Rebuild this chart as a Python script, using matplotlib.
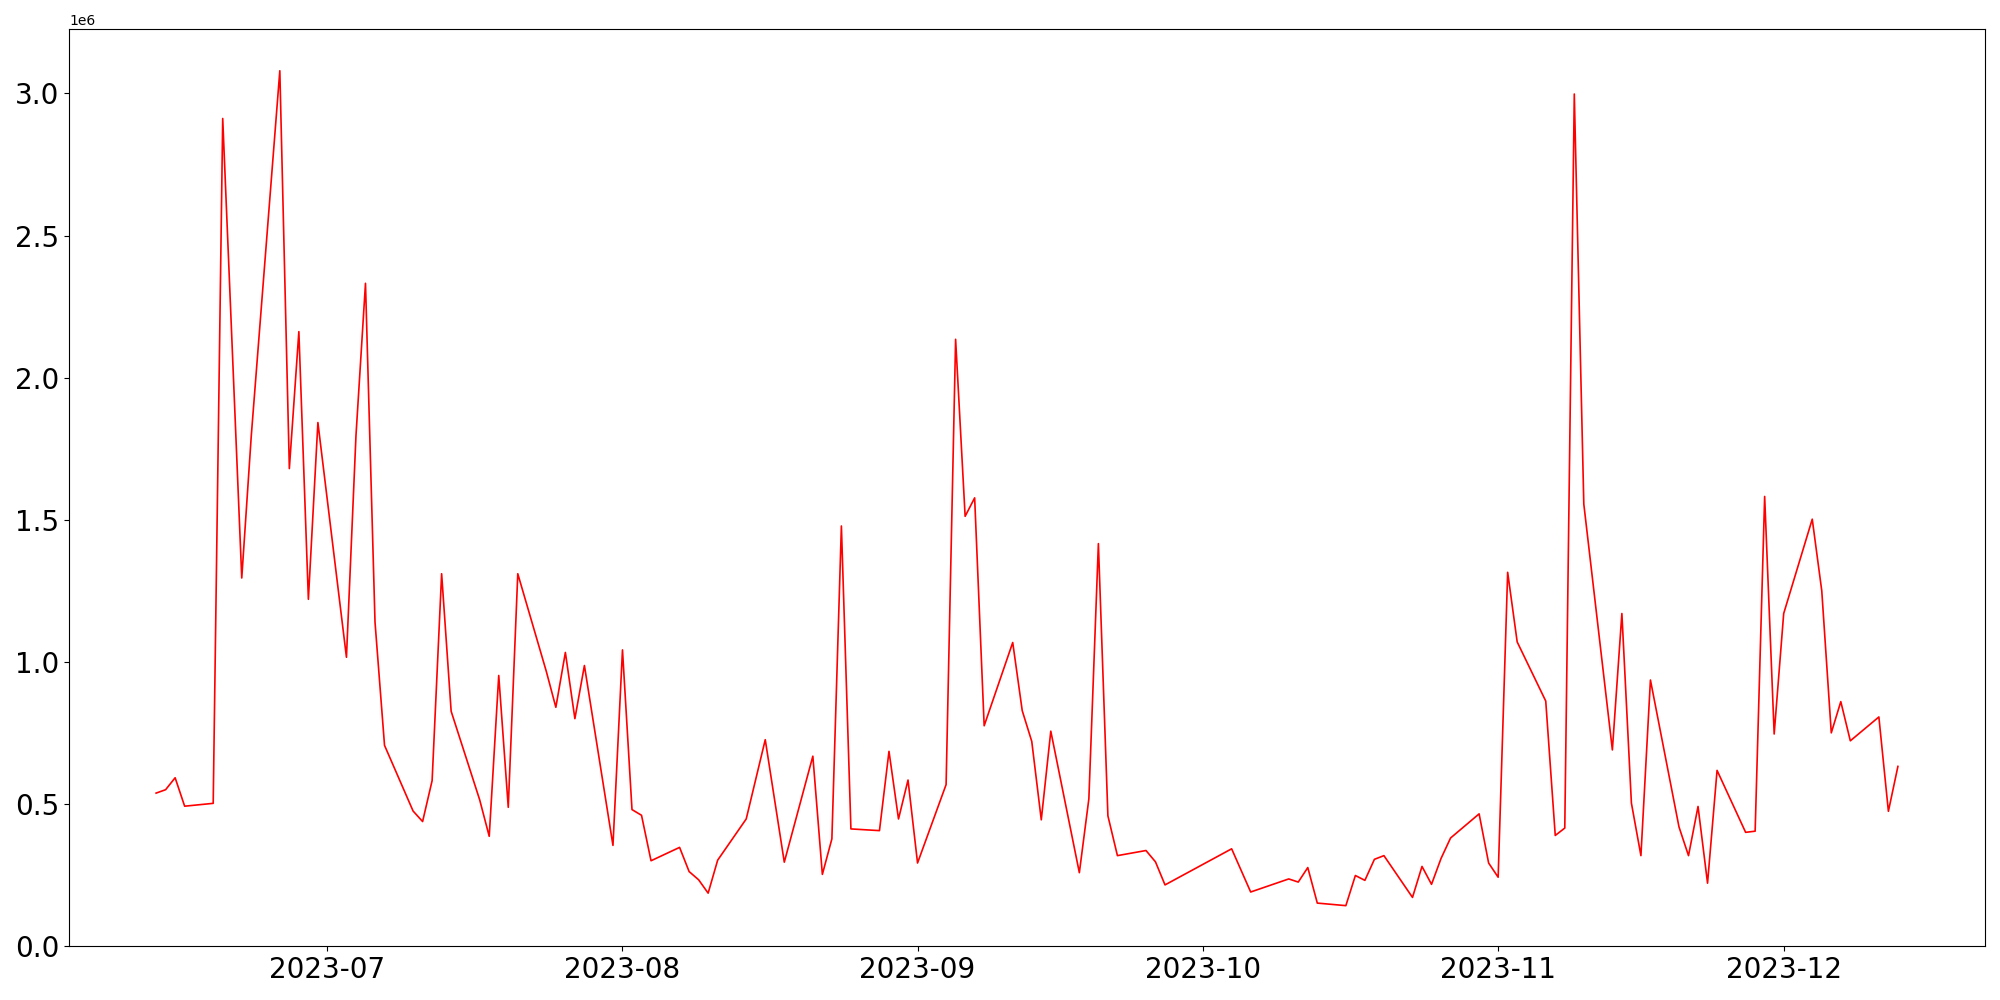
import numpy as np
import pandas as pd
import matplotlib
matplotlib.use('Agg')
import matplotlib.pyplot as plt

# -----------------------------------------------------------------------------------------

dates = [
    '2023-06-13', '2023-06-14', '2023-06-15', '2023-06-16', '2023-06-19', '2023-06-20',
    '2023-06-22', '2023-06-23', '2023-06-26', '2023-06-27', '2023-06-28', '2023-06-29',
    '2023-06-30', '2023-07-03', '2023-07-04', '2023-07-05', '2023-07-06', '2023-07-07',
    '2023-07-10', '2023-07-11', '2023-07-12', '2023-07-13', '2023-07-14', '2023-07-17',
    '2023-07-18', '2023-07-19', '2023-07-20', '2023-07-21', '2023-07-24', '2023-07-25',
    '2023-07-26', '2023-07-27', '2023-07-28', '2023-07-31', '2023-08-01', '2023-08-02',
    '2023-08-03', '2023-08-04', '2023-08-07', '2023-08-08', '2023-08-09', '2023-08-10',
    '2023-08-11', '2023-08-14', '2023-08-16', '2023-08-18', '2023-08-21', '2023-08-22',
    '2023-08-23', '2023-08-24', '2023-08-25', '2023-08-28', '2023-08-29', '2023-08-30',
    '2023-08-31', '2023-09-01', '2023-09-04', '2023-09-05', '2023-09-06', '2023-09-07',
    '2023-09-08', '2023-09-11', '2023-09-12', '2023-09-13', '2023-09-14', '2023-09-15',
    '2023-09-18', '2023-09-19', '2023-09-20', '2023-09-21', '2023-09-22', '2023-09-25',
    '2023-09-26', '2023-09-27', '2023-10-04', '2023-10-06', '2023-10-10', '2023-10-11',
    '2023-10-12', '2023-10-13', '2023-10-16', '2023-10-17', '2023-10-18', '2023-10-19',
    '2023-10-20', '2023-10-23', '2023-10-24', '2023-10-25', '2023-10-26', '2023-10-27',
    '2023-10-30', '2023-10-31', '2023-11-01', '2023-11-02', '2023-11-03', '2023-11-06',
    '2023-11-07', '2023-11-08', '2023-11-09', '2023-11-10', '2023-11-13', '2023-11-14',
    '2023-11-15', '2023-11-16', '2023-11-17', '2023-11-20', '2023-11-21', '2023-11-22',
    '2023-11-23', '2023-11-24', '2023-11-27', '2023-11-28', '2023-11-29', '2023-11-30',
    '2023-12-01', '2023-12-04', '2023-12-05', '2023-12-06', '2023-12-07', '2023-12-08',
    '2023-12-11', '2023-12-12', '2023-12-13',
]

volume = [
    538000, 550000, 592000, 492000, 502000, 2912000,
    1295000, 1795000, 3080000, 1680000, 2162000, 1220000,
    1842000, 1016000, 1796000, 2332000, 1140000, 706000,
    475000, 438000, 582000, 1310000, 826000, 514000,
    386000, 952000, 488000, 1310000, 966000, 840000,
    1033000, 800000, 987000, 354000, 1042000, 480000,
    460000, 300000, 347000, 262000, 233000, 186000,
    302000, 447000, 726000, 295000, 668000, 252000,
    377000, 1478000, 412000, 406000, 685000, 447000,
    584000, 292000, 568000, 2135000, 1512000, 1577000,
    775000, 1068000, 828000, 720000, 444000, 756000,
    258000, 518000, 1416000, 458000, 318000, 336000,
    296000, 215000, 342000, 190000, 236000, 225000,
    276000, 151000, 142000, 248000, 231000, 305000,
    318000, 171000, 280000, 217000, 308000, 380000,
    465000, 292000, 242000, 1315000, 1070000, 862000,
    389000, 415000, 2998000, 1555000, 690000, 1170000,
    503000, 318000, 936000, 419000, 318000, 491000,
    221000, 618000, 400000, 404000, 1582000, 746000,
    1170000, 1502000, 1250000, 750000, 860000, 722000,
    806000, 474000, 632000,
]

# -----------------------------------------------------------------------------------------

df = pd.DataFrame({'date': pd.to_datetime(dates), 'volume': volume})

fig = plt.figure(figsize=(20, 10), dpi=100)
plt.plot(df['date'], df['volume'], 'r', linewidth=1.2)

plt.ylim(bottom=0)
plt.xticks(fontsize=20)
plt.yticks(fontsize=20)

plt.subplots_adjust(left=0.0345, right=0.9925, top=0.971, bottom=0.054)

plt.savefig('out.png')
